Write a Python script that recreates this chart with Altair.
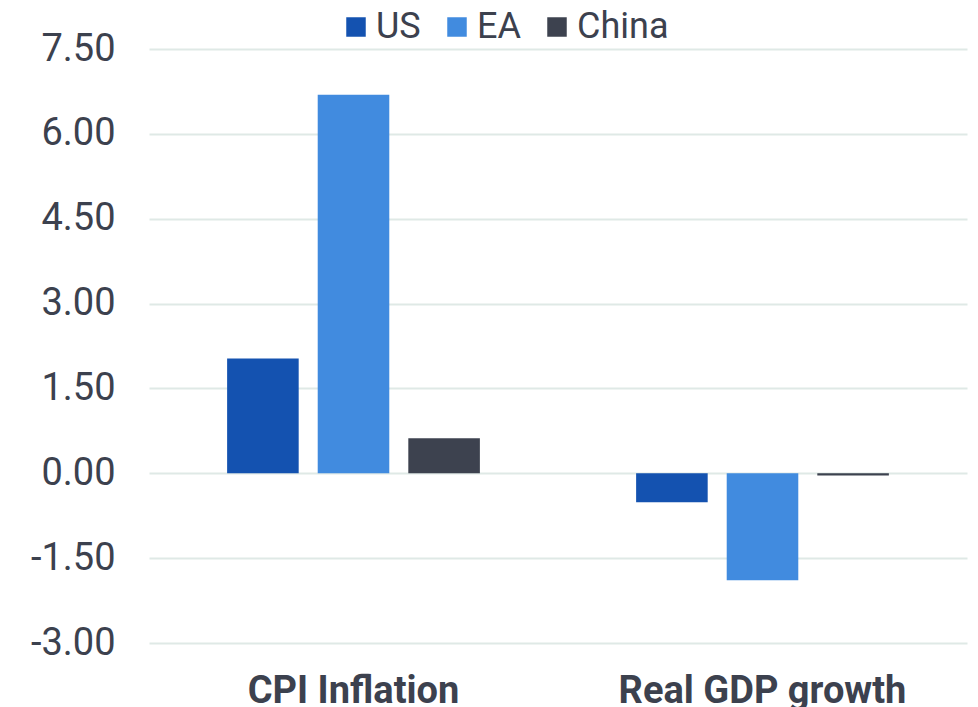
import altair as alt
import pandas as pd

categories = ["CPI Inflation", "Real GDP growth"]
series = ["US", "EA", "China"]
us_values = [2.03, -0.51]
ea_values = [6.69, -1.89]
china_values = [0.62, -0.04]
y_ticks = [-3.0, -1.5, 0.0, 1.5, 3.0, 4.5, 6.0, 7.5]
colors = ["#1452B0", "#418BDF", "#3D424F"]

rows = []
for name, vals in zip(series, [us_values, ea_values, china_values]):
    for cat, v in zip(categories, vals):
        rows.append({"category": cat, "series": name, "value": v})
df = pd.DataFrame(rows)

text_color = "#3C414E"

chart = alt.Chart(df).mark_bar().encode(
    x=alt.X(
        "category:N",
        sort=categories,
        scale=alt.Scale(paddingInner=0.382, paddingOuter=0.191),
        axis=alt.Axis(
            title=None, labelAngle=0, labelFont="Roboto", labelFontWeight="bold",
            labelFontSize=38, labelColor=text_color, labelPadding=29,
            labelLimit=500, ticks=False, domain=False, grid=False,
        ),
    ),
    xOffset=alt.XOffset(
        "series:N", sort=series,
        scale=alt.Scale(paddingInner=0.21, paddingOuter=0),
    ),
    y=alt.Y(
        "value:Q",
        scale=alt.Scale(domain=[-3, 7.5], nice=False, zero=False),
        axis=alt.Axis(
            title=None, values=y_ticks,
            labelExpr="datum.value < 0 ? '-' + format(-datum.value, '.2f') : format(datum.value, '.2f')",
            labelFont="Roboto", labelFontSize=38, labelColor=text_color,
            labelPadding=34, ticks=False, domain=False,
            gridColor="#DFE9E6", gridWidth=2,
        ),
    ),
    color=alt.Color(
        "series:N", sort=series,
        scale=alt.Scale(domain=series, range=colors),
        legend=alt.Legend(
            orient="none", legendX=189, legendY=-40, direction="horizontal",
            title=None, symbolType="square", symbolSize=380,
            symbolStrokeWidth=0, labelFontSize=36, labelFont="Roboto",
            labelColor=text_color, labelOffset=2, columnPadding=18, padding=0,
            labelLimit=300,
        ),
    ),
).properties(
    width=818,
    height=594,
    autosize=alt.AutoSizeParams(type="none"),
    padding={"left": 141, "top": 41, "right": 3, "bottom": 64},
).configure_view(stroke=None)

chart.save("out.html", embed_options={"renderer": "svg", "actions": False})
